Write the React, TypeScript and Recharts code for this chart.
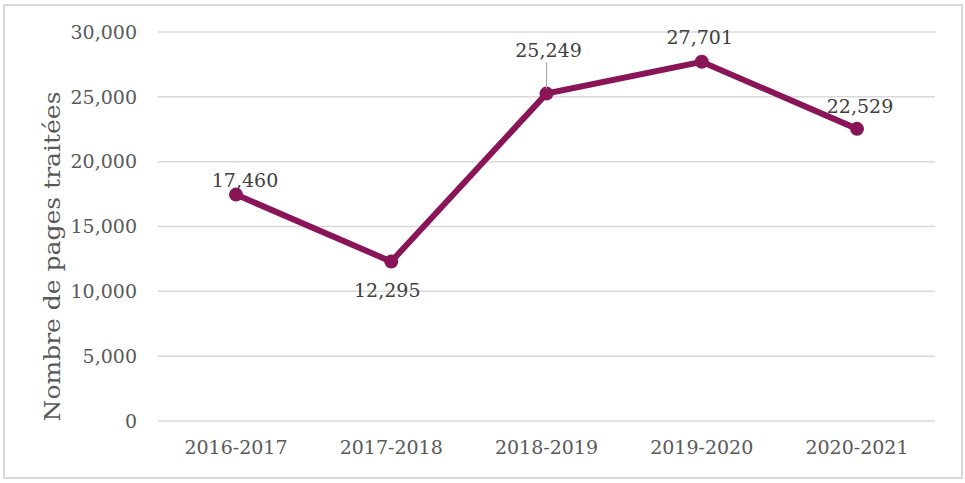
import { LineChart, Line, XAxis, YAxis, CartesianGrid, LabelList, Label } from "recharts";

const years = ["2016-2017", "2017-2018", "2018-2019", "2019-2020", "2020-2021"];
const pages = [17460, 12295, 25249, 27701, 22529];
const yTicks = [0, 5000, 10000, 15000, 20000, 25000, 30000];

const data = years.map((year, i) => ({ year, pages: pages[i] }));

// manual label placement like the original (dx, dy from the point, leader line)
const labelSpots = [
  { dx: 9, dy: -14, leader: false },
  { dx: -4, dy: 29, leader: false },
  { dx: 2, dy: -43, leader: true },
  { dx: -2, dy: -24, leader: false },
  { dx: 3, dy: -23, leader: false },
];

const FONT = "'DejaVu Serif', 'Liberation Serif', serif";
const COLOR = "#8A1458";

const fmt = (v: number) => v.toLocaleString("en-US");

const PointLabel = (props: any) => {
  const { x, y, value, index } = props;
  const spot = labelSpots[index] || { dx: 0, dy: -20, leader: false };
  const cx = x + spot.dx;
  const cy = y + spot.dy;
  return (
    <g>
      {spot.leader && (
        <line x1={x} y1={y - 5} x2={x} y2={cy + 12} stroke="#a6a6a6" strokeWidth={1} />
      )}
      <text
        x={cx}
        y={cy}
        dy="0.35em"
        textAnchor="middle"
        fontFamily={FONT}
        fontSize={19}
        fill="#404040"
      >
        {fmt(value)}
      </text>
    </g>
  );
};

const App = () => {
  return (
    <div style={{ position: "absolute", left: 0, top: 0, width: 965, height: 483, background: "#fff" }}>
      <div
        style={{
          position: "absolute",
          left: 3,
          top: 4,
          width: 956,
          height: 471,
          border: "2px solid #d9d9d9",
        }}
      />
      <div style={{ position: "absolute", left: 0, top: 0 }}>
        <LineChart width={965} height={483} data={data} margin={{ top: 32, right: 30, bottom: 0, left: 30 }}>
          <CartesianGrid vertical={false} stroke="#d9d9d9" strokeWidth={1.5} />
          <XAxis
            dataKey="year"
            axisLine={false}
            tickLine={false}
            tickSize={0}
            tickMargin={20}
            padding={{ left: 78, right: 78 }}
            tick={{ fontFamily: FONT, fontSize: 19, fill: "#595959" }}
            height={62}
          />
          <YAxis
            domain={[0, 30000]}
            ticks={yTicks}
            width={128}
            axisLine={false}
            tickLine={false}
            tickSize={0}
            tickMargin={21}
            tickFormatter={fmt}
            tick={{ fontFamily: FONT, fontSize: 19, fill: "#595959" }}
          >
            <Label
              content={(p: any) => {
                const vb = p.viewBox;
                const lx = vb.x + 22;
                const ly = vb.y + vb.height / 2 + 30;
                return (
                  <text
                    x={lx}
                    y={ly}
                    transform={`rotate(-90 ${lx} ${ly})`}
                    textAnchor="middle"
                    dy="0.35em"
                    fontFamily={FONT}
                    fontSize={23}
                    textLength={330}
                    lengthAdjust="spacingAndGlyphs"
                    fill="#595959"
                  >
                    Nombre de pages traitées
                  </text>
                );
              }}
            />
          </YAxis>
          <Line
            type="linear"
            dataKey="pages"
            stroke={COLOR}
            strokeWidth={6}
            dot={{ r: 7, fill: COLOR, stroke: COLOR, strokeWidth: 0 }}
            isAnimationActive={false}
          >
            <LabelList dataKey="pages" content={PointLabel} />
          </Line>
        </LineChart>
      </div>
    </div>
  );
};

export default App;
